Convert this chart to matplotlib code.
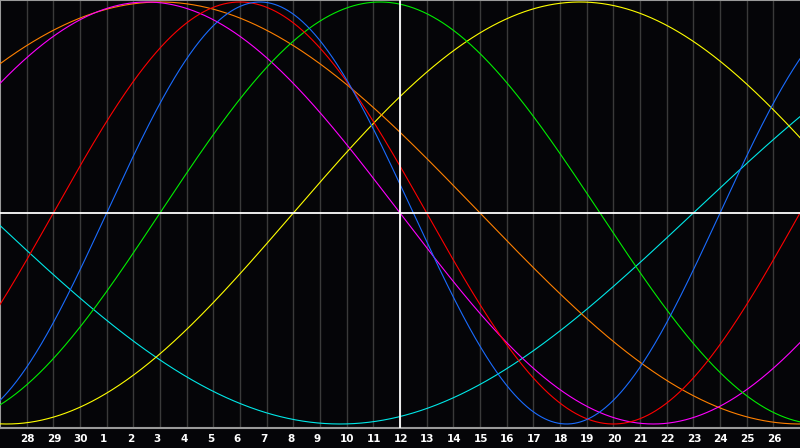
import numpy as np
import matplotlib
matplotlib.use("Agg")
import matplotlib.pyplot as plt

# day labels under the gridlines (offsets -14 .. 14 from today)
day_labels = ["28", "29", "30", "1", "2", "3", "4", "5", "6", "7", "8", "9", "10", "11",
              "12", "13", "14", "15", "16", "17", "18", "19", "20", "21", "22", "23",
              "24", "25", "26"]
grid_days = list(range(-14, 15))

# cycles: period in days, day offset of the rising zero crossing
cycle_names = ["cyan", "yellow", "orange", "magenta", "green", "red", "blue"]
periods = [53, 43, 48, 38, 33, 28, 23]
rising_zero = [11, -4, -21, -19, -9, -13, -11]
colors = ["#00e8e8", "#ffff00", "#ff8000", "#ff00ff", "#00ee00", "#ff0000", "#1a6cff"]

bg = "#050508"
fig = plt.figure(figsize=(8, 4.48), dpi=100)
fig.set_facecolor(bg)
ax = fig.add_axes([0, 20 / 448, 1, 428 / 448])
ax.set_facecolor(bg)

# grid
for g in grid_days:
    ax.axvline(g, color="#3a3a3a", lw=1.0, zorder=1)

d = np.linspace(-15, 15, 1201)
for name, p, z, c in zip(cycle_names, periods, rising_zero, colors):
    ax.plot(d, np.sin(2 * np.pi * (d - z) / p), color=c, lw=0.8, zorder=3)

# today + zero line
ax.axvline(0, color="white", lw=1.3, zorder=4)
ax.axhline(0, color="white", lw=1.3, zorder=4)

ax.set_xlim(-15, 15)
ax.set_ylim(-1.019, 1.0095)
ax.set_xticks([])
ax.set_yticks([])
for s in ["top", "left", "bottom"]:
    ax.spines[s].set_color("#9a9a9a")
    ax.spines[s].set_linewidth(1.5)
ax.spines["right"].set_visible(False)

for g, lab in zip(grid_days, day_labels):
    ax.text(g - 0.24, -0.025, lab, transform=ax.get_xaxis_transform(),
            ha="left", va="center", color="white", fontsize=7.5, fontweight="bold",
            family="DejaVu Sans")

fig.savefig("out.png", dpi=100, facecolor=bg)
